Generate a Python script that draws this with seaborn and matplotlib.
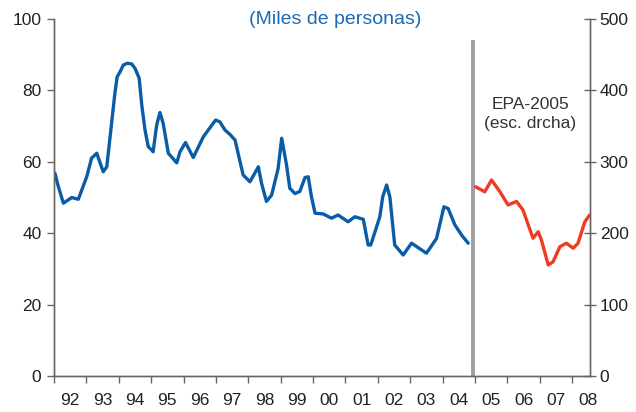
import matplotlib
matplotlib.use("Agg")
import matplotlib.pyplot as plt
import seaborn as sns
import pandas as pd

# Blue series (left axis, thousands of people), x in decimal years
blue_x = [1992.03, 1992.12, 1992.29, 1992.55, 1992.75, 1993.01, 1993.16, 1993.32, 1993.52,
          1993.63, 1993.88, 1993.95, 1994.04, 1994.14, 1994.26, 1994.40, 1994.50, 1994.63,
          1994.71, 1994.81, 1994.91, 1995.02, 1995.06, 1995.17, 1995.27, 1995.37, 1995.53,
          1995.79, 1995.89, 1996.06, 1996.30, 1996.61, 1996.99, 1997.12, 1997.28, 1997.43,
          1997.59, 1997.84, 1998.05, 1998.31, 1998.41, 1998.56, 1998.72, 1998.92, 1999.03,
          1999.18, 1999.28, 1999.44, 1999.59, 1999.75, 1999.85, 1999.95, 2000.06, 2000.31,
          2000.57, 2000.77, 2001.08, 2001.29, 2001.55, 2001.70, 2001.78, 2002.06, 2002.15,
          2002.27, 2002.37, 2002.52, 2002.78, 2003.04, 2003.50, 2003.81, 2004.04, 2004.17,
          2004.38, 2004.60, 2004.79]
blue_y = [56.8, 53.5, 48.4, 50.0, 49.5, 55.8, 61.0, 62.4, 57.2,
          58.6, 79.2, 83.8, 85.2, 87.1, 87.6, 87.4, 86.2, 83.4,
          75.9, 68.9, 64.2, 63.3, 62.8, 70.3, 73.8, 70.8, 62.4,
          59.7, 62.8, 65.4, 61.2, 67.0, 71.7, 71.2, 68.9, 67.7,
          66.1, 56.3, 54.4, 58.6, 53.9, 48.9, 50.7, 58.1, 66.6,
          59.1, 52.6, 51.1, 51.7, 55.6, 55.8, 50.2, 45.6, 45.4,
          44.2, 45.1, 43.2, 44.6, 43.9, 36.7, 36.7, 44.6, 50.2,
          53.5, 50.2, 36.7, 33.9, 37.2, 34.4, 38.5, 47.4, 46.9,
          42.3, 39.3, 37.2]

# Red series (right axis, EPA-2005)
red_x = [2005.02, 2005.30, 2005.51, 2005.77, 2006.02, 2006.28, 2006.48, 2006.79, 2006.95,
         2007.05, 2007.26, 2007.41, 2007.62, 2007.82, 2008.03, 2008.18, 2008.39, 2008.54]
red_y = [265, 258, 274.5, 258, 239.5, 244.5, 232.5, 193, 202,
         190.5, 155.5, 160, 181, 186, 179, 186, 216, 225.5]

years = list(range(1992, 2009))
year_labels = ["92", "93", "94", "95", "96", "97", "98", "99", "00",
               "01", "02", "03", "04", "05", "06", "07", "08"]
left_ticks = [0, 20, 40, 60, 80, 100]
right_ticks = [0, 100, 200, 300, 400, 500]
break_x = 2004.95
break_top = 94

title = "(Miles de personas)"
note = "EPA-2005\n(esc. drcha)"

sns.set_style("white")
plt.rcParams["font.family"] = ["Liberation Sans", "DejaVu Sans"]

FS = 12.5

fig = plt.figure(figsize=(6.36, 4.12), dpi=100)
ax = fig.add_axes([54/636, 1-376/412, (590-54)/636, (376-19)/412])
ax2 = ax.twinx()

blue_df = pd.DataFrame({"x": blue_x, "y": blue_y})
red_df = pd.DataFrame({"x": red_x, "y": red_y})

line_kw = dict(linewidth=2.4, solid_joinstyle="round", solid_capstyle="round")
sns.lineplot(data=blue_df, x="x", y="y", ax=ax, color="#0a5ca6", **line_kw)
sns.lineplot(data=red_df, x="x", y="y", ax=ax2, color="#f03a24", **line_kw)

ax.vlines(break_x, 0, break_top, color="#9f9f9f", linewidth=2.8, zorder=1)

ax.set_xlim(1992, 2008.55)
ax.set_ylim(0, 100)
ax2.set_ylim(0, 500)
ax.set_xticks(years, labels=[""] * len(years))
ax.set_xticks([y + 0.5 for y in years], labels=year_labels, minor=True)
ax.set_yticks(left_ticks)
ax2.set_yticks(right_ticks)
for a in (ax, ax2):
    a.set_xlabel("")
    a.set_ylabel("")
    for s in a.spines.values():
        s.set_color("#666666")
        s.set_linewidth(1.0)
    a.spines["top"].set_visible(False)

ax.tick_params(axis="x", which="major", direction="out", length=5, width=1, color="#666666", bottom=True)
ax.tick_params(axis="x", which="minor", length=0, labelsize=FS, labelcolor="#222222", pad=12)
ax.tick_params(axis="y", direction="out", length=5, width=1, color="#666666", left=True,
               labelsize=FS, labelcolor="#222222", pad=4)
ax2.tick_params(axis="y", direction="inout", length=8, width=1, color="#666666", right=True,
                labelsize=FS, labelcolor="#222222", pad=3)

fig.text(335/636, 1-19/412, title, ha="center", va="center", color="#1a6bb3", fontsize=14)
ax.text(2006.7, 73.4, note, ha="center", va="center", color="#333333", fontsize=FS,
        linespacing=1.4)

fig.savefig("out.png", dpi=100)
